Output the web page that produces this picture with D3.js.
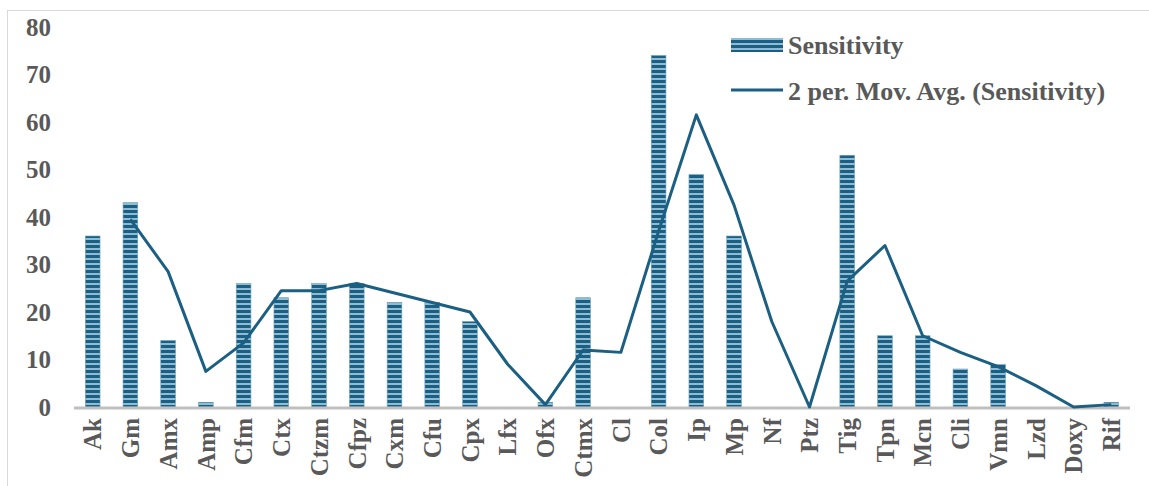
<html>
<head>
<script src="https://d3js.org/d3.v7.min.js"></script>
<style>
  body { margin: 0; background: #fff; }
  .tick-label { font-family: "Liberation Serif", "Times New Roman", serif; font-weight: bold; fill: #595959; }
</style>
</head>
<body>
<svg id="chart" width="1149" height="486"></svg>
<script>
// data
const drugs = ["Ak","Gm","Amx","Amp","Cfm","Ctx","Ctzm","Cfpz","Cxm","Cfu","Cpx","Lfx","Ofx","Ctmx",
               "Cl","Col","Ip","Mp","Nf","Ptz","Tig","Tpn","Mcn","Cli","Vmn","Lzd","Doxy","Rif"];
const sensitivity = [36,43,14,1,26,23,26,26,22,22,18,0,1,23,0,74,49,36,0,0,53,15,15,8,9,0,0,1];
// 2 period moving average, starts at the 2nd category
const movAvg = [null,39.5,28.5,7.5,13.5,24.5,24.5,26,24,22,20,9,0.5,12,11.5,37,61.5,42.5,18,0,26.5,34,15,11.5,8.5,4.5,0,0.5];
const yTicks = [0,10,20,30,40,50,60,70,80];
const legendLabels = ["Sensitivity", "2 per. Mov. Avg. (Sensitivity)"];

const svg = d3.select("#chart");
const dark = "#1b5f82", light = "#8fbcd2";

// striped fill for the bars
const defs = svg.append("defs");
const pat = defs.append("pattern")
    .attr("id", "stripes")
    .attr("patternUnits", "userSpaceOnUse")
    .attr("width", 10).attr("height", 5);
pat.append("rect").attr("width", 10).attr("height", 5).attr("fill", light);
pat.append("rect").attr("width", 10).attr("height", 3).attr("fill", dark);

// chart border
svg.append("rect")
   .attr("x", 7.5).attr("y", 10.5)
   .attr("width", 1160).attr("height", 500)
   .attr("fill", "none").attr("stroke", "#d9d9d9").attr("stroke-width", 1);

const x = d3.scaleBand().domain(drugs).range([74, 1130]).paddingInner(0.61).paddingOuter(0.3);
const y = d3.scaleLinear().domain([0, 80]).range([407, 27]);

// y labels
svg.selectAll(".ylab").data(yTicks).enter()
   .append("text")
   .attr("class", "tick-label")
   .attr("x", 51)
   .attr("y", d => y(d))
   .attr("dy", "0.35em")
   .attr("text-anchor", "end")
   .style("font-size", "25px")
   .text(d => d);

// bars
svg.selectAll(".bar").data(sensitivity).enter()
   .append("rect")
   .attr("class", "bar")
   .attr("x", (d, i) => x(drugs[i]))
   .attr("y", d => y(d))
   .attr("width", x.bandwidth())
   .attr("height", d => y(0) - y(d))
   .attr("fill", "url(#stripes)")
   .attr("stroke", "#6fa3bd")
   .attr("stroke-width", 0.6);

// x axis line
svg.append("line")
   .attr("x1", 74).attr("x2", 1130)
   .attr("y1", y(0) + 1).attr("y2", y(0) + 1)
   .attr("stroke", "#bfbfbf").attr("stroke-width", 3);

// x labels, rotated
svg.selectAll(".xlab").data(drugs).enter()
   .append("text")
   .attr("class", "tick-label")
   .attr("text-anchor", "end")
   .attr("dy", "0.35em")
   .style("font-size", "25px")
   .attr("transform", d => "translate(" + (x(d) + x.bandwidth() / 2) + ",418) rotate(-90)")
   .text(d => d);

// moving average line
const line = d3.line()
    .defined(d => d != null)
    .x((d, i) => x(drugs[i]) + x.bandwidth() / 2)
    .y(d => y(d));

svg.append("path")
   .datum(movAvg)
   .attr("d", line)
   .attr("fill", "none")
   .attr("stroke", "#1b5f82")
   .attr("stroke-width", 3)
   .attr("stroke-linejoin", "round");

// legend
const lg = svg.append("g");
lg.append("rect")
  .attr("x", 731).attr("y", 38).attr("width", 52).attr("height", 14)
  .attr("fill", "url(#stripes)");
lg.append("line")
  .attr("x1", 731).attr("x2", 783).attr("y1", 90).attr("y2", 90)
  .attr("stroke", "#1b5f82").attr("stroke-width", 3);
lg.selectAll("text").data(legendLabels).enter()
  .append("text")
  .attr("class", "tick-label")
  .attr("x", 788)
  .attr("y", (d, i) => 45 + i * 46)
  .attr("dy", "0.35em")
  .style("font-size", "26px")
  .text(d => d);
</script>
</body>
</html>
